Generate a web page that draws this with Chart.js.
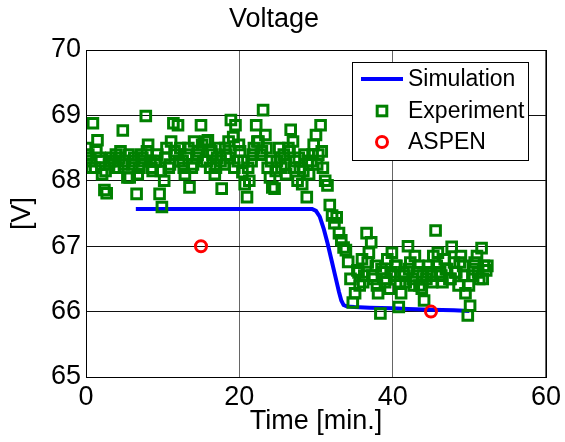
<!DOCTYPE html>
<html>
<head>
<meta charset="utf-8">
<script src="https://cdn.jsdelivr.net/npm/chart.js@4/dist/chart.umd.min.js"></script>
<style>
  html, body { margin: 0; padding: 0; background: #fff; }
  #wrap { width: 565px; height: 442px; }
</style>
</head>
<body>
<div id="wrap"><canvas id="c" width="565" height="442"></canvas></div>
<script>
// ---- Data ----
const chartTitle = 'Voltage';
const xAxisTitle = 'Time [min.]';
const yAxisTitle = '[V]';
const xTicks = [0, 20, 40, 60];
const yTicks = [65, 66, 67, 68, 69, 70];

const simTime = [6.5, 10, 15, 20, 25, 29.5, 30.0, 30.5, 31.0, 31.5, 32.0, 32.5, 33.0, 33.3, 33.6, 34.0, 35.0, 37.0, 40.0, 42.0, 45.0, 48.0, 50.0];
const simVolt = [67.57, 67.57, 67.57, 67.57, 67.57, 67.57, 67.54, 67.45, 67.27, 67.05, 66.80, 66.55, 66.30, 66.17, 66.10, 66.08, 66.07, 66.06, 66.05, 66.04, 66.03, 66.02, 66.01];

// experiment, outer points of the cloud
const expTime = [
  0.0, 0.3, 0.6, 0.9, 1.2, 1.5, 1.8, 2.1, 2.4, 2.7, 3.0, 3.3, 3.6, 3.9, 4.2, 4.5, 4.8, 5.1, 5.4, 5.7,
  6.0, 6.3, 6.6, 6.9, 7.2, 7.5, 7.8, 8.1, 8.4, 8.7, 9.0, 9.3, 9.6, 9.9, 10.2, 10.5, 10.8, 11.1, 11.4, 11.7,
  12.0, 12.3, 12.6, 12.9, 13.2, 13.5, 13.8, 14.1, 14.4, 14.7, 15.0, 15.3, 15.6, 15.9, 16.2, 16.5, 16.8, 17.1, 17.4, 17.7,
  18.0, 18.3, 18.6, 18.9, 19.2, 19.5, 19.8, 20.1, 20.4, 20.7, 21.0, 21.3, 21.6, 21.9, 22.2, 22.5, 22.8, 23.1, 23.4, 23.7,
  24.0, 24.3, 24.6, 24.9, 25.2, 25.5, 25.8, 26.1, 26.4, 26.7, 27.0, 27.3, 27.6, 27.9, 28.2, 28.5, 28.8, 29.1, 29.4, 29.7,
  30.0, 30.3, 30.6, 30.9, 31.2, 31.5, 31.8, 32.1, 32.4, 32.7, 33.0, 33.3, 33.6, 33.9, 34.2, 34.5, 34.8, 35.1, 35.4, 35.7,
  36.0, 36.3, 36.6, 36.9, 37.2, 37.5, 37.8, 38.1, 38.4, 38.7, 39.0, 39.3, 39.6, 39.9, 40.2, 40.5, 40.8, 41.1, 41.4, 41.7,
  42.0, 42.3, 42.6, 42.9, 43.2, 43.5, 43.8, 44.1, 44.4, 44.7, 45.0, 45.3, 45.6, 45.9, 46.2, 46.5, 46.8, 47.1, 47.4, 47.7,
  48.0, 48.3, 48.6, 48.9, 49.2, 49.5, 49.8, 50.1, 50.4, 50.7, 51.0, 51.3, 51.6, 51.9, 52.2
];
const expVolt = [
  68.50, 68.40, 68.30, 68.88, 68.20, 68.62, 68.35, 68.10, 67.86, 67.81, 68.25, 68.35, 68.30, 68.40, 68.20, 68.45, 68.77, 68.30, 68.05, 68.05,
  68.25, 68.35, 67.80, 68.20, 68.40, 68.30, 68.99, 68.55, 68.30, 68.15, 68.30, 68.40, 67.80, 67.60, 68.00, 68.50, 68.20, 68.60, 68.88, 68.40,
  68.85, 68.50, 68.30, 68.10, 68.40, 67.90, 68.20, 68.60, 68.35, 68.45, 68.85, 68.30, 68.60, 68.62, 68.20, 68.40, 68.10, 68.35, 68.50, 67.88,
  68.25, 68.40, 68.60, 68.93, 68.67, 68.85, 68.30, 68.45, 68.13, 67.95, 67.75, 68.00, 68.30, 68.50, 68.85, 68.60, 68.40, 69.08, 68.70, 68.20,
  68.05, 67.90, 67.88, 68.30, 68.50, 68.20, 68.40, 68.10, 68.50, 68.78, 68.60, 68.30, 68.00, 68.20, 67.95, 68.40, 67.75, 68.10, 68.30, 68.55,
  68.70, 68.40, 68.85, 68.20, 68.00, 67.93, 67.63, 67.47, 67.35, 67.44, 67.20, 67.09, 66.98, 66.94, 66.76, 66.50, 66.14, 66.28, 66.63, 66.40,
  66.80, 66.55, 67.20, 66.90, 67.06, 66.50, 66.70, 66.28, 65.97, 66.60, 66.45, 66.80, 66.35, 66.90, 66.55, 66.70, 66.07, 66.28, 66.60, 66.45,
  67.00, 66.75, 66.50, 66.85, 66.60, 66.40, 66.35, 66.17, 66.50, 66.70, 66.55, 66.85, 67.24, 66.90, 66.60, 66.45, 66.80, 66.65, 66.50, 66.99,
  66.75, 66.60, 66.40, 66.85, 66.70, 66.28, 65.94, 66.09, 66.55, 66.75, 66.85, 66.50, 66.97, 66.70, 66.63
];
// experiment, dense core of the cloud
const expTime2 = [
  0.15, 0.75, 1.35, 1.95, 2.55, 3.15, 3.75, 4.35, 4.95, 5.55, 6.15, 6.75, 7.35, 7.95, 8.55, 9.15, 9.75, 10.35, 10.95, 11.55,
  12.15, 12.75, 13.35, 13.95, 14.55, 15.15, 15.75, 16.35, 16.95, 17.55, 18.15, 18.75, 19.35, 19.95, 20.55, 21.15, 21.75, 22.35, 22.95, 23.55,
  24.15, 24.75, 25.35, 25.95, 26.55, 27.15, 27.75, 28.35, 28.95, 29.55, 30.15, 30.75,
  35.55, 36.15, 36.75, 37.35, 37.95, 38.55, 39.15, 39.75, 40.35, 40.95, 41.55, 42.15, 42.75, 43.35, 43.95, 44.55, 45.15, 45.75, 46.35, 46.95,
  47.55, 48.15, 48.75, 49.35, 49.95, 50.55, 51.15, 51.75, 52.35
];
const expVolt2 = [
  68.35, 68.20, 68.45, 68.30, 68.15, 68.30, 68.20, 68.35, 68.25, 68.40, 68.30, 68.10, 68.35, 68.45, 68.20, 68.30, 68.15, 68.35, 68.25, 68.45,
  68.30, 68.20, 68.50, 68.25, 68.40, 68.55, 68.30, 68.45, 68.20, 68.30, 68.50, 68.35, 68.20, 68.55, 68.30, 68.20, 68.40, 68.60, 68.45, 68.50,
  68.30, 68.15, 68.35, 68.25, 68.45, 68.20, 68.35, 68.15, 68.30, 68.40, 68.25, 68.45,
  66.60, 66.45, 66.75, 66.55, 66.40, 66.65, 66.50, 66.60, 66.70, 66.45, 66.55, 66.65, 66.40, 66.70, 66.55, 66.60, 66.45, 66.70, 66.55, 66.65,
  66.50, 66.60, 66.75, 66.55, 66.40, 66.65, 66.60, 66.50, 66.70
];

const aspenTime = [15, 45];
const aspenVolt = [67.0, 66.0];

const seriesNames = ['Simulation', 'Experiment', 'ASPEN'];
// ---------------------------------------------

const zip = (xs, ys) => xs.map((x, i) => ({ x: x, y: ys[i] }));
const FONT = "'Liberation Sans', Arial, Helvetica, sans-serif";

const boxPlugin = {
  id: 'boxAndLegend',
  afterDraw(chart) {
    const ctx = chart.ctx;
    const a = chart.chartArea;
    ctx.save();
    ctx.strokeStyle = '#000';
    ctx.lineWidth = 1;
    ctx.strokeRect(Math.round(a.left) + 0.5, Math.round(a.top) + 0.5, Math.round(a.right - a.left), Math.round(a.bottom - a.top));

    // legend
    const lx = 352, ly = 62, lw = 176, lh = 98;
    ctx.fillStyle = '#fff';
    ctx.fillRect(lx, ly, lw, lh);
    ctx.strokeStyle = '#000';
    ctx.lineWidth = 1;
    ctx.strokeRect(lx + 0.5, ly + 0.5, lw, lh);

    const ds = chart.data.datasets;
    const rows = [79, 111, 142];
    ctx.font = '23px ' + FONT;
    ctx.textBaseline = 'middle';
    ctx.textAlign = 'left';
    // Simulation line
    ctx.strokeStyle = ds[0].borderColor;
    ctx.lineWidth = ds[0].borderWidth;
    ctx.beginPath();
    ctx.moveTo(361, rows[0]);
    ctx.lineTo(403, rows[0]);
    ctx.stroke();
    // Experiment square
    const r1 = ds[1].pointRadius * Math.SQRT1_2;
    ctx.strokeStyle = ds[1].borderColor;
    ctx.lineWidth = ds[1].pointBorderWidth;
    ctx.strokeRect(382 - r1, rows[1] - r1, 2 * r1, 2 * r1);
    // ASPEN circle
    ctx.strokeStyle = ds[2].borderColor;
    ctx.lineWidth = ds[2].pointBorderWidth;
    ctx.beginPath();
    ctx.arc(382, rows[2], ds[2].pointRadius, 0, Math.PI * 2);
    ctx.stroke();

    ctx.fillStyle = '#000';
    for (let i = 0; i < 3; i++) {
      ctx.fillText(ds[i].label, 408, rows[i] + 1);
    }
    ctx.restore();
  }
};

new Chart(document.getElementById('c'), {
  type: 'scatter',
  data: {
    datasets: [
      {
        label: seriesNames[0],
        type: 'line',
        data: zip(simTime, simVolt),
        borderColor: '#0000ff',
        backgroundColor: '#0000ff',
        borderWidth: 4,
        pointRadius: 0,
        tension: 0,
        fill: false,
        order: 3
      },
      {
        label: seriesNames[1],
        data: zip(expTime, expVolt).concat(zip(expTime2, expVolt2)),
        pointStyle: 'rect',
        pointRadius: 6.8,
        pointBorderWidth: 3,
        borderColor: '#008000',
        pointBorderColor: '#008000',
        backgroundColor: 'rgba(0,0,0,0)',
        pointBackgroundColor: 'rgba(0,0,0,0)',
        order: 2
      },
      {
        label: seriesNames[2],
        data: zip(aspenTime, aspenVolt),
        pointStyle: 'circle',
        pointRadius: 5.5,
        pointBorderWidth: 3,
        borderColor: '#ff0000',
        pointBorderColor: '#ff0000',
        backgroundColor: 'rgba(0,0,0,0)',
        pointBackgroundColor: 'rgba(0,0,0,0)',
        order: 0
      }
    ]
  },
  options: {
    responsive: false,
    animation: false,
    devicePixelRatio: 1,
    layout: { padding: { left: 0, right: 17, top: 0, bottom: 0 } },
    plugins: {
      legend: { display: false },
      tooltip: { enabled: false },
      title: {
        display: true,
        text: chartTitle,
        color: '#000',
        font: { family: FONT, size: 27, weight: 'normal', lineHeight: 1.2 },
        padding: { top: 3, bottom: 14.6 }
      }
    },
    scales: {
      x: {
        type: 'linear',
        min: xTicks[0],
        max: xTicks[xTicks.length - 1],
        afterBuildTicks: (s) => { s.ticks = xTicks.map(v => ({ value: v })); },
        afterFit: (s) => { s.height = 65; },
        ticks: {
          color: '#000',
          padding: 4,
          maxRotation: 0,
          autoSkip: false,
          font: { family: FONT, size: 27, lineHeight: 1.2 }
        },
        grid: { color: '#666', lineWidth: 1, drawTicks: false },
        border: { display: false },
        title: {
          display: true,
          text: xAxisTitle,
          color: '#000',
          font: { family: FONT, size: 27, lineHeight: 1.2 },
          padding: { top: 0, bottom: 4 }
        }
      },
      y: {
        type: 'linear',
        min: yTicks[0],
        max: yTicks[yTicks.length - 1],
        afterBuildTicks: (s) => { s.ticks = yTicks.map(v => ({ value: v })); },
        afterFit: (s) => { s.width = 86; },
        ticks: {
          color: '#000',
          padding: 5,
          autoSkip: false,
          font: { family: FONT, size: 27, lineHeight: 1.2 }
        },
        grid: { color: '#111', lineWidth: 1, drawTicks: false },
        border: { display: false },
        title: {
          display: true,
          text: yAxisTitle,
          color: '#000',
          font: { family: FONT, size: 27, lineHeight: 1.2 },
          padding: { top: 6, bottom: 0 }
        }
      }
    }
  },
  plugins: [boxPlugin]
});
</script>
</body>
</html>
